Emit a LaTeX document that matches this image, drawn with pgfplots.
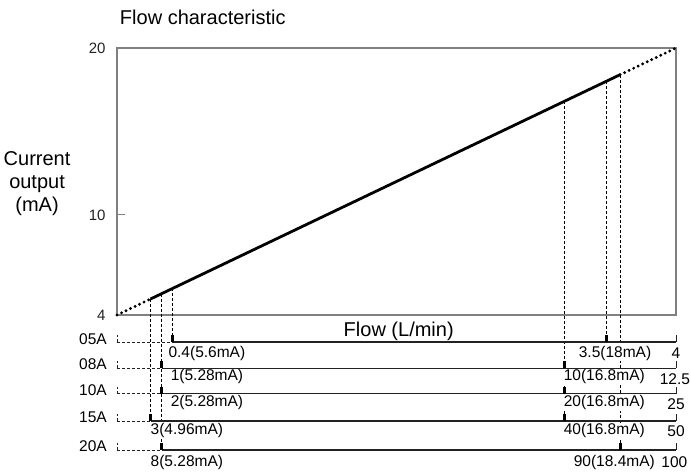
\documentclass[border=0pt]{standalone}
\usepackage{pgfplots}
\pgfplotsset{compat=1.18}
\usepackage{fontspec}
\setmainfont{Liberation Sans}

\definecolor{boxgray}{HTML}{808080}
\definecolor{ink}{HTML}{222222}

\newcommand{\bigtxt}{\fontsize{20bp}{23bp}\selectfont}
\newcommand{\lab}{\fontsize{15.5bp}{18bp}\selectfont}
\tikzset{vlab/.style={anchor=west, inner sep=0.5bp, fill=white, font=\lab}}

\begin{document}
\begin{tikzpicture}
\begin{axis}[
  name=main,
  scale only axis, width=559bp, height=267bp,
  xmin=0, xmax=100, ymin=4, ymax=20,
  clip=false,
  axis line style={boxgray, line width=1.2bp},
  xtick=\empty,
  ytick={4,10,20},
  ytick pos=left,
  major tick length=8bp,
  tick style={boxgray, line width=1.2bp},
  yticklabel style={font=\fontsize{15bp}{18bp}\selectfont, text=ink, xshift=-8bp},
  /pgf/number format/assume math mode=true,
  every node/.append style={text=ink},
]
% characteristic line (x in % of full scale, y in mA)
\addplot[black, line width=3.2bp, line cap=round, dash pattern=on 0bp off 5bp]
  coordinates {(0,4) (6,4.96)};
\addplot[black, line width=2.8bp]
  coordinates {(6,4.96) (90,18.4)};
\addplot[black, line width=3.2bp, line cap=round, dash pattern=on 0bp off 5bp]
  coordinates {(90,18.4) (100,20)};

% dashed drop lines to the flow scales
\pgfplotsset{drop/.style={black, line width=0.9bp, dash pattern=on 3bp off 2bp}}
\addplot[drop] coordinates {(6,4.96) (6,-2.35)};
\addplot[drop] coordinates {(8,5.28) (8,-4.09)};
\addplot[drop] coordinates {(10,5.6) (10,2.38)};
\addplot[drop] coordinates {(80,16.8) (80,-2.35)};
\addplot[drop] coordinates {(87.5,18) (87.5,2.38)};
\addplot[drop] coordinates {(90,18.4) (90,-4.09)};

% flow scales for each model
\pgfplotsset{
  rowline/.style={ink, line width=1.1bp},
  rowdash/.style={ink, line width=0.9bp, dash pattern=on 3bp off 2bp},
  mtick/.style={black, line width=3bp},
  etick/.style={ink, line width=0.9bp},
}
% 05A
\addplot[rowdash] coordinates {(0,2.38) (10,2.38)};
\addplot[rowdash] coordinates {(0,2.38) (0,2.8)};
\addplot[rowline] coordinates {(10,2.38) (100,2.38)};
\addplot[mtick] coordinates {(10,2.38) (10,2.8)};
\addplot[mtick] coordinates {(87.5,2.38) (87.5,2.8)};
\addplot[etick] coordinates {(100,2.38) (100,2.8)};
% 08A
\addplot[rowdash] coordinates {(0,0.82) (8,0.82)};
\addplot[rowdash] coordinates {(0,0.82) (0,1.24)};
\addplot[rowline] coordinates {(8,0.82) (100,0.82)};
\addplot[mtick] coordinates {(8,0.82) (8,1.24)};
\addplot[mtick] coordinates {(80,0.82) (80,1.24)};
\addplot[etick] coordinates {(100,0.82) (100,1.24)};
% 10A
\addplot[rowdash] coordinates {(0,-0.73) (8,-0.73)};
\addplot[rowdash] coordinates {(0,-0.73) (0,-0.31)};
\addplot[rowline] coordinates {(8,-0.73) (100,-0.73)};
\addplot[mtick] coordinates {(8,-0.73) (8,-0.31)};
\addplot[mtick] coordinates {(80,-0.73) (80,-0.31)};
\addplot[etick] coordinates {(100,-0.73) (100,-0.31)};
% 15A
\addplot[rowdash] coordinates {(0,-2.35) (6,-2.35)};
\addplot[rowdash] coordinates {(0,-2.35) (0,-1.93)};
\addplot[rowline] coordinates {(6,-2.35) (100,-2.35)};
\addplot[mtick] coordinates {(6,-2.35) (6,-1.93)};
\addplot[mtick] coordinates {(80,-2.35) (80,-1.93)};
\addplot[etick] coordinates {(100,-2.35) (100,-1.93)};
% 20A
\addplot[rowdash] coordinates {(0,-4.09) (8,-4.09)};
\addplot[rowdash] coordinates {(0,-4.09) (0,-3.67)};
\addplot[rowline] coordinates {(8,-4.09) (100,-4.09)};
\addplot[mtick] coordinates {(8,-4.09) (8,-3.67)};
\addplot[mtick] coordinates {(90,-4.09) (90,-3.67)};
\addplot[etick] coordinates {(100,-4.09) (100,-3.67)};

% texts
\node[anchor=base west, inner sep=0, font=\bigtxt] at (axis cs:0.5,21.38) {Flow characteristic};
\node[align=center, inner sep=0, font=\bigtxt] at (axis cs:-14.3,11.9) {Current\\output\\(mA)};
\node[inner sep=0, font=\bigtxt] at (axis cs:50.4,3.04) {Flow (L/min)};

\node[anchor=east, inner sep=0, font=\lab] at (axis cs:-1.79,2.56) {05A};
\node[anchor=east, inner sep=0, font=\lab] at (axis cs:-1.79,1.06) {08A};
\node[anchor=east, inner sep=0, font=\lab] at (axis cs:-1.79,-0.49) {10A};
\node[anchor=east, inner sep=0, font=\lab] at (axis cs:-1.79,-2.11) {15A};
\node[anchor=east, inner sep=0, font=\lab] at (axis cs:-1.79,-3.85) {20A};

\node[vlab] at (axis cs:9.1,1.72) {0.4(5.6mA)};
\node[vlab] at (axis cs:9.5,0.29) {1(5.28mA)};
\node[vlab] at (axis cs:9.5,-1.27) {2(5.28mA)};
\node[vlab] at (axis cs:5.9,-2.95) {3(4.96mA)};
\node[vlab] at (axis cs:5.9,-4.81) {8(5.28mA)};

\node[vlab] at (axis cs:82.5,1.72) {3.5(18mA)};
\node[vlab] at (axis cs:79.8,0.29) {10(16.8mA)};
\node[vlab] at (axis cs:79.8,-1.27) {20(16.8mA)};
\node[vlab] at (axis cs:79.8,-2.95) {40(16.8mA)};
\node[vlab] at (axis cs:81.6,-4.81) {90(18.4mA)};

\node[inner sep=0, font=\lab] at (axis cs:100,1.72) {4};
\node[inner sep=0, font=\lab] at (axis cs:99.8,0.17) {12.5};
\node[inner sep=0, font=\lab] at (axis cs:100,-1.35) {25};
\node[inner sep=0, font=\lab] at (axis cs:100,-2.95) {50};
\node[inner sep=0, font=\lab] at (axis cs:99.7,-4.81) {100};
\end{axis}
\pgfresetboundingbox
\path[use as bounding box] ([xshift=-117bp,yshift=-158bp]main.south west) rectangle ([xshift=15bp,yshift=48bp]main.north east);
\end{tikzpicture}
\end{document}
